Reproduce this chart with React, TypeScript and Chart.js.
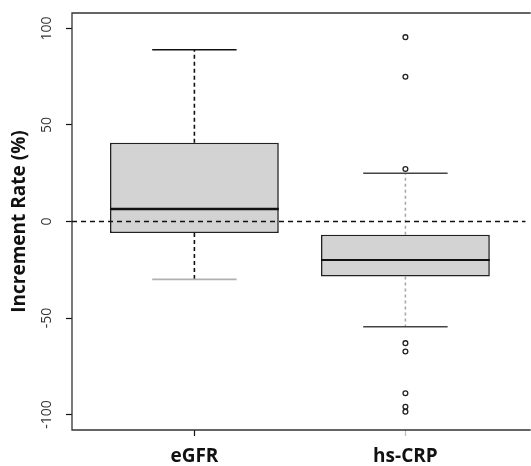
import { useEffect, useRef } from 'react';
import { Chart, registerables } from 'chart.js';

Chart.register(...registerables);

// ---- data ----
const CATEGORIES = ['eGFR', 'hs-CRP'];
const POSITIONS = [1, 2];
const LOWER_WHISKER = [-30, -54.5];
const Q1 = [-6, -28.5];
const MEDIAN = [6.5, -20];
const Q3 = [40.8, -6.8];
const UPPER_WHISKER = [89, 25];
const OUTLIERS_EGFR: number[] = [];
const OUTLIERS_HSCRP = [95.5, 75, 27.2, -63, -67.3, -89, -96, -98.5];
const Y_TICKS = [-100, -50, 0, 50, 100];
const REFERENCE_LINE = 0;

// ---- layout / style constants ----
const Y_MIN = -108;
const Y_MAX = 108;
const X_MIN = 0.42;
const X_MAX = 2.57;
const CAP_HALF = 0.2;
const BOX_HALF = 0.4;
const WHISKER_COLORS = ['#111111', '#a8a8a8'];
const WHISKER_DASH = [[4, 3], [3, 3]];
const UPPER_CAP_COLORS = ['#111111', '#444444'];
const LOWER_CAP_COLORS = ['#b0b0b0', '#444444'];
const FONT = "'Open Sans', 'Noto Sans', sans-serif";

const framePlugin = {
  id: 'rframe',
  beforeDatasetsDraw(chart: any) {
    const { ctx, chartArea } = chart;
    const { left, top, right, bottom } = chartArea;
    ctx.save();
    ctx.strokeStyle = '#333333';
    ctx.lineWidth = 1.3;
    ctx.beginPath();
    ctx.moveTo(right + 5, top);
    ctx.lineTo(left, top);
    ctx.lineTo(left, bottom);
    ctx.lineTo(right + 5, bottom);
    ctx.stroke();
    ctx.restore();
  },
};

export default function App() {
  const canvasRef = useRef<HTMLCanvasElement | null>(null);

  useEffect(() => {
    document.body.style.margin = '0';
    const canvas = canvasRef.current;
    if (!canvas) return;

    const datasets: any[] = [];

    // boxes
    datasets.push({
      type: 'bar',
      label: 'box',
      data: POSITIONS.map((x, i) => ({ x, y: [Q1[i], Q3[i]] })),
      backgroundColor: '#d3d3d3',
      borderColor: '#222222',
      borderWidth: 1.6,
      borderSkipped: false,
      barPercentage: BOX_HALF * 2,
      categoryPercentage: 1,
      order: 6,
    });

    POSITIONS.forEach((x, i) => {
      // whiskers
      datasets.push({
        type: 'line',
        label: 'whisker' + i,
        data: [
          { x, y: Q3[i] },
          { x, y: UPPER_WHISKER[i] },
          { x, y: null },
          { x, y: Q1[i] },
          { x, y: LOWER_WHISKER[i] },
        ],
        borderColor: WHISKER_COLORS[i],
        borderWidth: 1.6,
        borderDash: WHISKER_DASH[i],
        pointRadius: 0,
        spanGaps: false,
        fill: false,
        order: 5,
      });
      // caps
      datasets.push({
        type: 'line',
        label: 'ucap' + i,
        data: [
          { x: x - CAP_HALF, y: UPPER_WHISKER[i] },
          { x: x + CAP_HALF, y: UPPER_WHISKER[i] },
        ],
        borderColor: UPPER_CAP_COLORS[i],
        borderWidth: 1.6,
        pointRadius: 0,
        fill: false,
        order: 4,
      });
      datasets.push({
        type: 'line',
        label: 'lcap' + i,
        data: [
          { x: x - CAP_HALF, y: LOWER_WHISKER[i] },
          { x: x + CAP_HALF, y: LOWER_WHISKER[i] },
        ],
        borderColor: LOWER_CAP_COLORS[i],
        borderWidth: 1.6,
        pointRadius: 0,
        fill: false,
        order: 4,
      });
      // median
      datasets.push({
        type: 'line',
        label: 'median' + i,
        data: [
          { x: x - BOX_HALF, y: MEDIAN[i] },
          { x: x + BOX_HALF, y: MEDIAN[i] },
        ],
        borderColor: '#111111',
        borderWidth: i === 0 ? 2.6 : 2,
        pointRadius: 0,
        fill: false,
        order: 3,
      });
    });

    // reference line at 0
    datasets.push({
      type: 'line',
      label: 'ref',
      data: [
        { x: X_MIN, y: REFERENCE_LINE },
        { x: X_MAX, y: REFERENCE_LINE },
      ],
      borderColor: '#111111',
      borderWidth: 1.4,
      borderDash: [5, 4],
      pointRadius: 0,
      fill: false,
      order: 2,
    });

    // outliers
    const outlierData = [
      ...OUTLIERS_EGFR.map((y) => ({ x: POSITIONS[0], y })),
      ...OUTLIERS_HSCRP.map((y) => ({ x: POSITIONS[1], y })),
    ];
    datasets.push({
      type: 'scatter',
      label: 'outliers',
      data: outlierData,
      showLine: false,
      pointStyle: 'circle',
      pointRadius: 2.4,
      pointBorderWidth: 1.3,
      pointBorderColor: '#222222',
      pointBackgroundColor: '#ffffff',
      order: 1,
    });

    const chart = new Chart(canvas, {
      type: 'bar',
      data: { datasets },
      plugins: [framePlugin],
      options: {
        animation: false,
        responsive: false,
        devicePixelRatio: 1,
        layout: { padding: { top: 13, right: 0, left: 0, bottom: 0 } },
        plugins: {
          legend: { display: false },
          tooltip: { enabled: false },
        },
        scales: {
          x: {
            type: 'linear',
            min: X_MIN,
            max: X_MAX,
            offset: false,
            afterBuildTicks: (scale: any) => {
              scale.ticks = POSITIONS.map((v) => ({ value: v }));
            },
            afterFit: (scale: any) => {
              scale.height = 36;
              scale.paddingLeft = 0;
              scale.paddingRight = 0;
            },
            border: { display: false },
            grid: {
              offset: false,
              drawOnChartArea: false,
              drawTicks: true,
              tickLength: 6,
              tickColor: (ctx: any) => (ctx.index === 0 ? '#111111' : '#bbbbbb'),
              tickWidth: 1.2,
            },
            ticks: {
              autoSkip: false,
              maxRotation: 0,
              minRotation: 0,
              padding: 9,
              color: '#111111',
              font: { family: FONT, size: 19, weight: 'bold' },
              callback: (v: any) => CATEGORIES[POSITIONS.indexOf(Number(v))] ?? '',
            },
          },
          y: {
            type: 'linear',
            min: Y_MIN,
            max: Y_MAX,
            afterBuildTicks: (scale: any) => {
              scale.ticks = Y_TICKS.map((v) => ({ value: v }));
            },
            afterFit: (scale: any) => {
              scale.width = 72;
              scale.paddingTop = 0;
              scale.paddingBottom = 0;
            },
            border: { display: false },
            grid: {
              drawOnChartArea: false,
              drawTicks: true,
              tickLength: 6,
              tickColor: '#111111',
              tickWidth: 1.2,
            },
            ticks: {
              minRotation: 90,
              maxRotation: 90,
              crossAlign: 'center',
              padding: 5,
              color: '#333333',
              font: { family: FONT, size: 14 },
              callback: (v: any) => String(v),
            },
            title: {
              display: true,
              text: 'Increment Rate (%)',
              color: '#111111',
              font: { family: FONT, size: 19, weight: 'bold' },
              padding: { top: 8, bottom: 0 },
            },
          },
        },
      } as any,
    });

    return () => chart.destroy();
  }, []);

  return (
    <div style={{ width: 531, height: 466 }}>
      <canvas ref={canvasRef} width={531} height={466} style={{ display: 'block' }} />
    </div>
  );
}
